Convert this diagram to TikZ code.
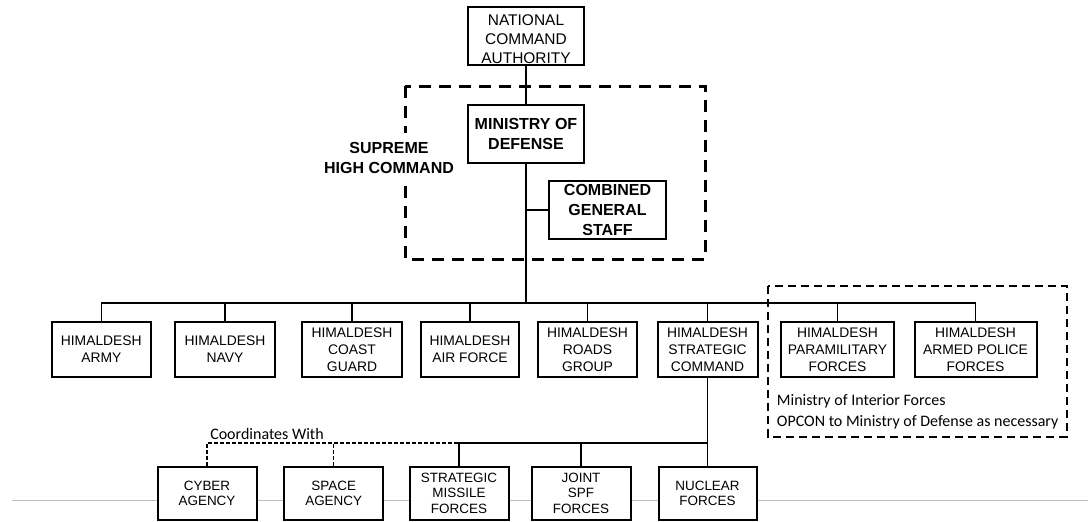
\documentclass[tikz,border=0pt]{standalone}
\usepackage{fontspec}
\setmainfont{Liberation Sans}
\newfontfamily\notefont{Carlito}
\begin{document}
\begin{tikzpicture}[x=0.75pt,y=-0.75pt,
  unitbox/.style={draw,line width=1.5pt,fill=white,align=center,inner sep=0pt},
  toprow/.style={unitbox,minimum width=87pt,minimum height=43.5pt},
  midrow/.style={unitbox,minimum height=41.25pt,font=\fontsize{10.4}{12.75}\selectfont},
  lowrow/.style={unitbox,minimum width=74.25pt,minimum height=40.1pt,font=\fontsize{10.1}{11.6}\selectfont},
  boldtext/.style={font=\bfseries\fontsize{12}{15}\selectfont},
  conn/.style={line width=1.2pt},
  coordline/.style={line width=1pt,dash pattern=on 3pt off 1.5pt},
  note/.style={font=\notefont\fontsize{12}{15}\selectfont,inner sep=0pt}]
\useasboundingbox (0,0) rectangle (1088,521);

% faint rule behind the lowest row
\draw[line width=1pt,color={rgb,255:red,192;green,192;blue,192}] (12,500.5) -- (1088,500.5);

% command authority and supreme high command
\node[toprow,label={[font=\fontsize{11.6}{14.25}\selectfont,align=center,inner sep=0pt,yshift=-2.3pt]center:NATIONAL\\COMMAND\\AUTHORITY}] (nca) at (526,36) {};
\draw[line width=2.25pt,dash pattern=on 9pt off 6pt] (405,86) rectangle (705,259);
\node[toprow,boldtext] (mod) at (526,134) {MINISTRY OF\\DEFENSE};
\node[toprow,boldtext,minimum width=87.75pt] (cgs) at (607.5,210) {COMBINED\\GENERAL\\STAFF};
\node[boldtext,align=center,fill=white,inner xsep=1pt,inner ysep=7pt] (shc) at (389,158) {SUPREME\\HIGH COMMAND};

% service branches
\node[midrow,minimum width=74.25pt] (army) at (101.3,349.5) {HIMALDESH\\ARMY};
\node[midrow,minimum width=75pt] (navy) at (225,349.5) {HIMALDESH\\NAVY};
\node[midrow,minimum width=75pt] (coast) at (352,349.5) {HIMALDESH\\COAST\\GUARD};
\node[midrow,minimum width=73.5pt] (air) at (470,349.5) {HIMALDESH\\AIR FORCE};
\node[midrow,minimum width=74.25pt] (roads) at (587.5,349.5) {HIMALDESH\\ROADS\\GROUP};
\node[midrow,minimum width=75pt] (strat) at (707.5,349.5) {HIMALDESH\\STRATEGIC\\COMMAND};
\node[midrow,minimum width=84.75pt] (para) at (837.5,349.5) {HIMALDESH\\PARAMILITARY\\FORCES};
\node[midrow,minimum width=91.5pt] (police) at (975.5,349.5) {HIMALDESH\\ARMED POLICE\\FORCES};

% interior forces group
\draw[line width=1.7pt,dash pattern=on 6pt off 3.75pt] (768,286) rectangle (1066.7,436.7);
\node[note,anchor=base west] (mif) at (776.7,405) {Ministry of Interior Forces};
\node[note,anchor=base west] (opcon) at (776.7,426) {OPCON to Ministry of Defense as necessary};

% strategic command elements
\node[lowrow] (cyber) at (207,493.3) {CYBER\\AGENCY};
\node[lowrow] (space) at (333.7,493.3) {SPACE\\AGENCY};
\node[lowrow] (missile) at (459,493.3) {STRATEGIC\\MISSILE\\FORCES};
\node[lowrow] (joint) at (581,493.3) {JOINT\\SPF\\FORCES};
\node[lowrow,minimum width=73.5pt] (nuclear) at (707.5,493.3) {NUCLEAR\\FORCES};
\node[note,anchor=base west] (coordwith) at (210,439) {Coordinates With};

% connectors
\coordinate (bus) at (526,303);
\coordinate (sub) at (707.5,443);
\draw[conn] (nca.south) -- (mod.north);
\draw[conn] (mod.south) -- (bus);
\draw[conn] (mod.south |- cgs.west) -- (cgs.west);
\draw[conn] (army.north) -- (army.north |- bus) -- (police.north |- bus) -- (police.north);
\foreach \n in {navy,coast,air,roads,strat,para}
  \draw[conn] (\n.north) -- (\n.north |- bus);
\draw[conn] (strat.south) -- (nuclear.north);
\draw[conn] (missile.north) -- (missile.north |- sub) -- (sub);
\draw[conn] (joint.north) -- (joint.north |- sub);
\draw[coordline] (cyber.north) -- (cyber.north |- sub) -- (missile.north |- sub);
\draw[coordline] (space.north) -- (space.north |- sub);
\end{tikzpicture}
\end{document}
